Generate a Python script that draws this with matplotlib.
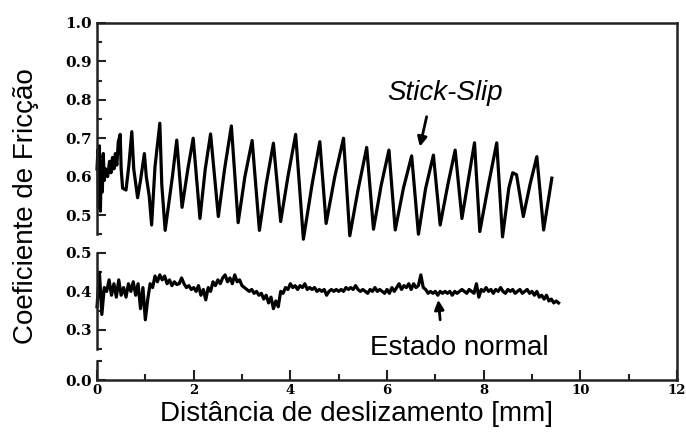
import numpy as np
import matplotlib
matplotlib.use("Agg")
import matplotlib.pyplot as plt
from matplotlib.ticker import MultipleLocator, FormatStrFormatter

# Stick-slip friction trace: turning points (distance in mm, coefficient)
stick_x = [0.00, 0.02, 0.03, 0.05, 0.07, 0.09, 0.11, 0.13, 0.15, 0.18, 0.22,
           0.26, 0.29, 0.32, 0.35, 0.38, 0.41, 0.44, 0.48, 0.50, 0.53, 0.60,
           0.66, 0.72, 0.76, 0.84, 0.90, 0.98, 1.02, 1.08, 1.13, 1.20, 1.30,
           1.34, 1.41, 1.56, 1.65, 1.76, 1.88, 1.99, 2.13, 2.24, 2.35, 2.51,
           2.64, 2.78, 2.92, 3.06, 3.21, 3.36, 3.50, 3.65, 3.80, 3.95, 4.11,
           4.27, 4.45, 4.61, 4.74, 4.92, 5.10, 5.23, 5.40, 5.58, 5.72, 5.88,
           6.04, 6.17, 6.34, 6.51, 6.65, 6.80, 6.96, 7.10, 7.26, 7.41, 7.55,
           7.68, 7.81, 7.92, 8.10, 8.27, 8.39, 8.52, 8.60, 8.68, 8.82, 8.96,
           9.10, 9.24, 9.41]
stick_mu = [0.62, 0.67, 0.52, 0.68, 0.51, 0.64, 0.56, 0.66, 0.59, 0.62, 0.60,
            0.64, 0.61, 0.65, 0.62, 0.66, 0.63, 0.69, 0.71, 0.62, 0.57, 0.565,
            0.63, 0.717, 0.62, 0.545, 0.59, 0.66, 0.60, 0.55, 0.474, 0.626, 0.739,
            0.58, 0.46, 0.60, 0.695, 0.52, 0.62, 0.70, 0.491, 0.62, 0.711, 0.496,
            0.62, 0.732, 0.48, 0.60, 0.694, 0.46, 0.58, 0.687, 0.483, 0.60, 0.71,
            0.437, 0.58, 0.691, 0.478, 0.60, 0.70, 0.446, 0.565, 0.676, 0.463, 0.578,
            0.669, 0.461, 0.57, 0.654, 0.45, 0.57, 0.656, 0.474, 0.58, 0.669, 0.491,
            0.59, 0.688, 0.457, 0.58, 0.688, 0.443, 0.57, 0.61, 0.605, 0.496, 0.58,
            0.652, 0.461, 0.596]

# Normal sliding trace, sampled every 0.05 mm from 0 to 9.55 mm
normal_mu = [
    0.36, 0.45, 0.34, 0.41, 0.40, 0.43, 0.39, 0.42, 0.385, 0.43,
    0.39, 0.41, 0.385, 0.42, 0.40, 0.425, 0.39, 0.42, 0.355, 0.41,
    0.326, 0.38, 0.42, 0.41, 0.44, 0.425, 0.443, 0.43, 0.44, 0.42,
    0.43, 0.415, 0.425, 0.418, 0.42, 0.435, 0.42, 0.41, 0.415, 0.405,
    0.41, 0.40, 0.415, 0.39, 0.405, 0.378, 0.41, 0.40, 0.425, 0.415,
    0.43, 0.42, 0.435, 0.443, 0.425, 0.435, 0.42, 0.443, 0.425, 0.43,
    0.415, 0.41, 0.405, 0.40, 0.405, 0.395, 0.40, 0.39, 0.395, 0.38,
    0.39, 0.37, 0.385, 0.355, 0.375, 0.36, 0.40, 0.395, 0.41, 0.405,
    0.42, 0.41, 0.415, 0.405, 0.415, 0.41, 0.42, 0.405, 0.41, 0.405,
    0.41, 0.40, 0.405, 0.40, 0.405, 0.39, 0.40, 0.405, 0.40, 0.405,
    0.40, 0.405, 0.40, 0.41, 0.405, 0.41, 0.405, 0.415, 0.405, 0.40,
    0.405, 0.40, 0.395, 0.405, 0.40, 0.41, 0.40, 0.405, 0.40, 0.395,
    0.405, 0.395, 0.41, 0.40, 0.41, 0.42, 0.405, 0.415, 0.41, 0.42,
    0.405, 0.42, 0.41, 0.415, 0.443, 0.41, 0.405, 0.395, 0.40, 0.395,
    0.40, 0.39, 0.40, 0.395, 0.40, 0.395, 0.40, 0.39, 0.40, 0.395,
    0.40, 0.405, 0.40, 0.395, 0.405, 0.40, 0.395, 0.42, 0.385, 0.405,
    0.40, 0.41, 0.40, 0.405, 0.395, 0.405, 0.40, 0.41, 0.40, 0.395,
    0.405, 0.40, 0.405, 0.395, 0.40, 0.405, 0.395, 0.40, 0.405, 0.395,
    0.40, 0.39, 0.40, 0.385, 0.39, 0.38, 0.39, 0.375, 0.38, 0.37,
    0.375, 0.37,
]
normal_x = np.arange(len(normal_mu)) * 0.05

x_ticks = [0, 2, 4, 6, 8, 10, 12]

SPINE = "#222222"
LW_SPINE = 1.8
TRACE_LW = 2.3
text_font = ["Liberation Sans", "DejaVu Sans"]

fig = plt.figure(figsize=(6.86, 4.43), dpi=100)

L, W = 0.1414, 0.9869 - 0.1414
frame_box = [L, 0.1422, W, 0.9481 - 0.1422]
top_box = [L, 0.4713, W, 0.9481 - 0.4713]
mid_box = [L, 0.2122, W, 0.4289 - 0.2122]
bot_box = [L, 0.1422, W, 0.1856 - 0.1422]


def style_labels(labels, size):
    for lab in labels:
        lab.set_fontfamily("DejaVu Serif")
        lab.set_fontweight("bold")
        lab.set_fontsize(size)


# Outer frame: top, right and bottom spines plus the distance axis
frame = fig.add_axes(frame_box)
frame.set_facecolor("none")
frame.set_xlim(0, 12)
frame.set_ylim(0, 1)
frame.spines["left"].set_visible(False)
for s in ("top", "right", "bottom"):
    frame.spines[s].set_color(SPINE)
    frame.spines[s].set_linewidth(LW_SPINE)
frame.set_yticks([])
frame.set_xticks(x_ticks)
frame.xaxis.set_minor_locator(MultipleLocator(1))
frame.tick_params(axis="x", which="major", direction="in", length=7,
                  width=1.5, color=SPINE, pad=3)
frame.tick_params(axis="x", which="minor", direction="in", length=4,
                  width=1.5, color=SPINE)
style_labels(frame.get_xticklabels(), 9.5)


def segment(box, lo, hi, majors):
    ax = fig.add_axes(box)
    ax.set_facecolor("none")
    ax.set_xlim(0, 12)
    ax.set_ylim(lo, hi)
    for s in ("top", "right", "bottom"):
        ax.spines[s].set_visible(False)
    ax.spines["left"].set_color(SPINE)
    ax.spines["left"].set_linewidth(LW_SPINE)
    ax.set_xticks([])
    ax.set_yticks(majors)
    ax.yaxis.set_minor_locator(MultipleLocator(0.05))
    ax.yaxis.set_major_formatter(FormatStrFormatter("%.1f"))
    ax.tick_params(axis="y", which="major", direction="in", length=6.5,
                   width=1.5, color=SPINE, pad=4)
    ax.tick_params(axis="y", which="minor", direction="in", length=3.5,
                   width=1.5, color=SPINE)
    style_labels(ax.get_yticklabels(), 11)
    return ax


ax_top = segment(top_box, 0.45, 1.0, [0.5, 0.6, 0.7, 0.8, 0.9, 1.0])
ax_mid = segment(mid_box, 0.25, 0.5, [0.3, 0.4, 0.5])
ax_bot = segment(bot_box, 0.0, 0.05, [0.0])

ax_top.plot(stick_x, stick_mu, color="black", lw=TRACE_LW, clip_on=False,
            solid_joinstyle="round")
ax_mid.plot(normal_x, normal_mu, color="black", lw=TRACE_LW, clip_on=False,
            solid_joinstyle="round")

arrow = dict(arrowstyle="-|>", lw=2.0, color="black", mutation_scale=14,
             shrinkA=0, shrinkB=0)

ax_top.text(7.2, 0.818, "Stick-Slip", ha="center", va="center",
            style="italic", fontsize=20, family=text_font)
ax_top.annotate("", xy=(6.68, 0.678), xytext=(6.82, 0.756), arrowprops=arrow)

ax_mid.text(7.49, 0.253, "Estado normal", ha="center", va="center",
            fontsize=20, family=text_font)
ax_mid.annotate("", xy=(7.06, 0.378), xytext=(7.10, 0.326), arrowprops=arrow)

fig.text(0.038, 0.534, "Coeficiente de Fricção", rotation=90, ha="center",
         va="center", fontsize=20, family=text_font)
fig.text(0.52, 0.05, "Distância de deslizamento [mm]", ha="center",
         va="baseline", fontsize=20, family=text_font)

fig.savefig("out.png", dpi=100)
